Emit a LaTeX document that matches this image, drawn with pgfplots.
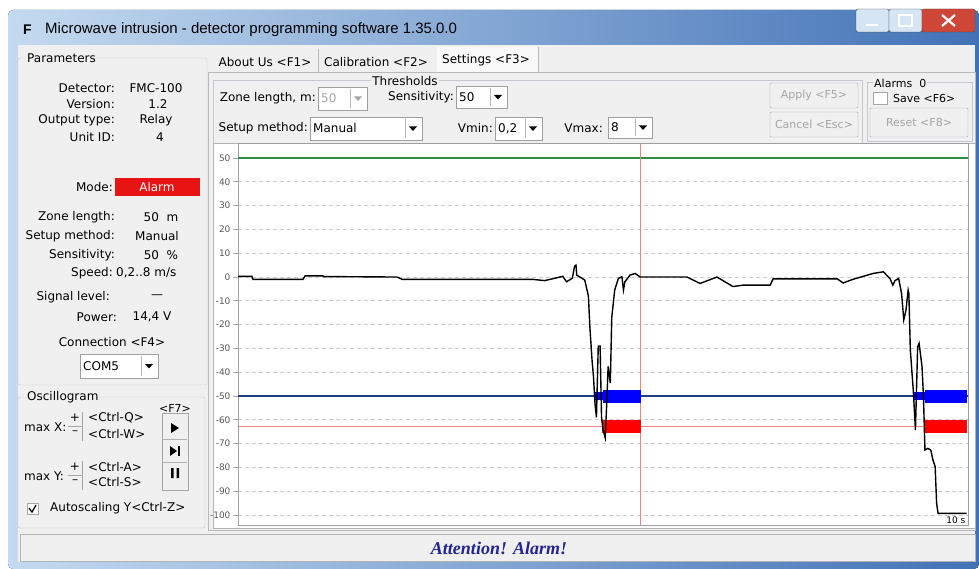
\documentclass[border=0pt]{standalone}
\usepackage{pgfplots}
\pgfplotsset{compat=1.18}
\usepackage{fontspec}
\setmainfont{DejaVu Sans}
\newfontfamily\titlefont{Liberation Sans}
\newfontfamily\alarmfont{Liberation Serif}

\definecolor{framelight}{RGB}{196,218,240}
\definecolor{framedark}{RGB}{66,114,182}
\definecolor{panel}{RGB}{240,240,240}
\definecolor{boxline}{RGB}{196,200,206}
\definecolor{disabled}{RGB}{165,165,165}
\definecolor{thrgreen}{RGB}{50,140,70}
\definecolor{thrblue}{RGB}{30,62,125}
\definecolor{thrred}{RGB}{236,130,130}
\definecolor{alarmred}{RGB}{232,20,20}
\definecolor{alarmtext}{RGB}{35,35,150}

\newcommand\ui{\fontsize{12}{14}\selectfont}
\newcommand\btn{\fontsize{11}{13}\selectfont}
% combobox: x1,y1,x2,y2,text,textcolour
\newcommand\combo[6]{%
  \draw[draw=gray!75,fill=white] (#1,#2) rectangle (#3,#4);
  \node[anchor=west,inner sep=0,text=#6,font=\ui] at ({#1+3},{(#2+#4)/2}) {#5};
  \draw[gray!55] ({#3-17},{#2+2}) -- ({#3-17},{#4-2});
  \fill[#6] ({#3-13},{(#2+#4)/2-2}) -- ({#3-5},{(#2+#4)/2-2}) -- ({#3-9},{(#2+#4)/2+2.5}) -- cycle;
}
% push button: x1,y1,x2,y2,text
\newcommand\button[5]{%
  \draw[draw=gray!70,fill=panel,rounded corners=1pt] (#1,#2) rectangle (#3,#4);
  \node[text=disabled,font=\btn,inner sep=0] at ({(#1+#3)/2},{(#2+#4)/2}) {#5};
}

\begin{document}
\begin{tikzpicture}[x=1pt,y=-1pt]
\useasboundingbox (0,0) rectangle (979,569);
\fill[white] (0,0) rectangle (979,569);

% window frame and title bar
\fill[left color=framelight,right color=framedark,rounded corners=5pt] (8,10) rectangle (979,569);
\fill[panel] (18,45) rectangle (975,562);
\node[anchor=west,font=\titlefont\fontsize{14}{14}\selectfont\bfseries,inner sep=0] at (23,30) {F};
\node[anchor=west,font=\titlefont\fontsize{15}{16}\selectfont,inner sep=0] at (45,30) {Microwave intrusion - detector programming software 1.35.0.0};
\draw[gray!60!black,fill=framelight!70!white,rounded corners=2pt] (856,9) rectangle (889,32);
\draw[white,line width=2pt] (866,25) -- (878,25);
\draw[gray!60!black,fill=framelight!70!white,rounded corners=2pt] (889,9) rectangle (922,32);
\draw[white,line width=1.5pt] (899,15) rectangle (912,26);
\draw[gray!60!black,fill={rgb,255:red,205;green,70;blue,55},rounded corners=2pt] (922,9) rectangle (975,32);
\draw[white,line width=2.2pt] (942,15) -- (955,26) (942,26) -- (955,15);

% Parameters group
\draw[boxline,rounded corners=2pt] (18,58) rectangle (207,385);
\node[fill=panel,inner sep=1pt,anchor=west,font=\ui] at (26,58) {Parameters};
\begin{scope}[every node/.style={font=\ui,inner sep=0}]
\node[anchor=east] at (115,88) {Detector:};     \node at (156,88) {FMC-100};
\node[anchor=east] at (115,104) {Version:};     \node at (158,104) {1.2};
\node[anchor=east] at (115,120) {Output type:}; \node at (156,120) {Relay};
\node[anchor=east] at (115,137) {Unit ID:};     \node at (160,137) {4};
\node[anchor=east] at (113,187) {Mode:};
\fill[alarmred] (115,178) rectangle (200,196);
\node[text=white] at (157,187) {Alarm};
\node[anchor=east] at (115,217) {Zone length:};   \node at (161,217) {50~ m};
\node[anchor=east] at (115,236) {Setup method:};  \node at (157,236) {Manual};
\node[anchor=east] at (115,255) {Sensitivity:};   \node at (161,255) {50~ \%};
\node[anchor=east] at (113,273) {Speed:};         \node[anchor=west] at (116,273) {0,2..8 m/s};
\node[anchor=east] at (110,297) {Signal level:};  \node at (157,297) {---};
\node[anchor=east] at (117,317) {Power:};         \node at (152,317) {14,4 V};
\node at (112,342) {Connection <F4>};
\end{scope}
\combo{80}{354}{158}{378}{COM5}{black}

% Oscillogram group
\draw[boxline,rounded corners=2pt] (18,397) rectangle (205,528);
\node[fill=panel,inner sep=1pt,anchor=west,font=\ui] at (26,397) {Oscillogram};
\begin{scope}[every node/.style={font=\ui,inner sep=0}]
\node[anchor=west] at (24,427) {max X:};
\node[anchor=west] at (24,476) {max Y:};
\node at (75,418) {+};  \node at (75,433) {--};
\node at (75,467) {+};  \node at (75,482) {--};
\node[anchor=west] at (88,418) {<Ctrl-Q>};
\node[anchor=west] at (88,434) {<Ctrl-W>};
\node[anchor=west] at (88,467) {<Ctrl-A>};
\node[anchor=west] at (88,482) {<Ctrl-S>};
\node[font=\btn] at (175,408) {<F7>};
\node[anchor=west] at (50,508) {Autoscaling Y<Ctrl-Z>};
\end{scope}
\draw[gray!70] (68,426) -- (82,426) (82,412) -- (82,441) (68,475) -- (82,475) (82,461) -- (82,490);
\draw[gray!70,fill=panel] (162,413) rectangle (188,490);
\draw[gray!60] (163,439) -- (187,439) (163,462) -- (187,462);
\fill[black] (171,423) -- (179,428) -- (171,433) -- cycle;
\fill[black] (170,446) -- (177,451) -- (170,456) -- cycle;
\fill[black] (178,446) rectangle (180,456);
\fill[black] (171,468) rectangle (173.5,478) (176.5,468) rectangle (179,478);
\draw[gray!70,fill=white] (27,503) rectangle (38,514);
\draw[black,line width=1.3pt] (29,508) -- (32,512) -- (36,505);

% tabs
\draw[gray!55] (208,72) -- (975,72) -- (975,530) -- (208,530) -- cycle;
\fill[white!60!panel] (437,47) rectangle (538,72);
\draw[gray!55] (318,49) -- (318,72) (538,47) -- (538,72);
\begin{scope}[every node/.style={font=\ui,inner sep=0}]
\node at (265,62) {About Us <F1>};
\node at (376,62) {Calibration <F2>};
\node at (486,60) {Settings <F3>};
\end{scope}

% Thresholds group
\draw[boxline] (213,80) rectangle (862,143);
\node[fill=panel,inner sep=1pt,font=\ui] at (405,81) {Thresholds};
\begin{scope}[every node/.style={font=\ui,inner sep=0}]
\node[anchor=east] at (316,98) {Zone length, m:};
\node[anchor=east] at (454,97) {Sensitivity:};
\node[anchor=east] at (308,128) {Setup method:};
\node[anchor=east] at (493,128) {Vmin:};
\node[anchor=east] at (603,128) {Vmax:};
\end{scope}
\combo{318}{87}{367}{110}{50}{disabled}
\combo{456}{86}{507}{108}{50}{black}
\combo{310}{117}{422}{140}{Manual}{black}
\combo{495}{117}{542}{140}{0,2}{black}
\combo{608}{117}{652}{138}{8}{black}
\button{770}{83}{858}{108}{Apply <F5>}
\button{770}{112}{858}{137}{Cancel <Esc>}

% Alarms group
\draw[boxline] (867,82) rectangle (972,141);
\node[fill=panel,inner sep=1pt,anchor=west,font=\btn] at (873,83) {Alarms~ 0};
\draw[gray!70,fill=white] (873,92) rectangle (887,104);
\node[anchor=west,font=\btn,inner sep=0] at (893,98) {Save <F6>};
\button{870}{108}{968}{137}{Reset <F8>}

% oscillogram panel
\draw[gray!60,fill=white] (213,143) rectangle (975,528);

\begin{scope}[x=1cm,y=1cm]
\begin{axis}[
    at={(238pt,-144pt)}, anchor=north west,
    width=730pt, height=381pt, scale only axis,
    xmin=0, xmax=10, ymin=-104.2, ymax=55.9,
    xtick=\empty,
    ytick={-100,-90,...,50},
    ytick pos=left, tick align=outside,
    major tick length=5pt,
    tick style={gray!70, line width=0.8pt},
    axis line style={gray!75, line width=1pt},
    ymajorgrids,
    major grid style={gray!40, dash pattern=on 4pt off 3pt, line width=0.8pt},
    yticklabel style={font=\fontsize{9}{9}\selectfont, text=gray!70!black, xshift=1pt},
    /pgf/number format/assume math mode=true,
    clip=true,
  ]
  % thresholds
  \addplot[thrgreen, line width=1.6pt] coordinates {(0,50) (10,50)};
  \addplot[thrblue, line width=1.6pt] coordinates {(0,-50) (10,-50)};
  \addplot[thrred, line width=1pt] coordinates {(0,-63) (10,-63)};
  % marker of the current time
  \addplot[thrred, line width=1pt] coordinates {(5.52,-104.2) (5.52,55.9)};
  % alarm bars
  \addplot[blue, line width=8pt] coordinates {(4.87,-50) (5.00,-50)};
  \addplot[blue, line width=13pt] coordinates {(5.00,-50) (5.52,-50)};
  \addplot[red, line width=13pt] coordinates {(4.99,-63) (5.52,-63)};
  \addplot[blue, line width=8pt] coordinates {(9.25,-50) (9.41,-50)};
  \addplot[blue, line width=13pt] coordinates {(9.41,-50) (9.99,-50)};
  \addplot[red, line width=13pt] coordinates {(9.41,-63) (9.99,-63)};
  % signal
  \addplot[black, line width=1.4pt, sharp plot] coordinates {
    (0,0.3) (0.19,0.3) (0.205,-1) (0.89,-1) (0.92,0.5) (1.16,0.5) (1.18,0.2)
    (2.18,0) (2.25,-1) (4.04,-1) (4.2,-1.5) (4.37,-0.3) (4.45,0.3) (4.50,-2)
    (4.58,-0.5) (4.61,4.5) (4.63,5) (4.64,0.8) (4.71,-0.5) (4.75,-1.3)
    (4.80,-8) (4.82,-21) (4.85,-35) (4.87,-42) (4.89,-53) (4.91,-59)
    (4.935,-29) (4.96,-29) (4.98,-59) (5.00,-64) (5.03,-67.6) (5.05,-54)
    (5.07,-37.6) (5.10,-44.6) (5.12,-17) (5.16,-5.5) (5.21,-0.6) (5.26,0.1)
    (5.28,-5.5) (5.30,-2) (5.37,0.8) (5.44,1.5) (5.51,0) (6.15,0) (6.33,-2.7)
    (6.56,0) (6.78,-4) (6.92,-3.4) (7.29,-3.4) (7.33,-0.8) (8.21,-0.8)
    (8.29,-2.5) (8.42,-1) (8.70,1.5) (8.84,2.2) (8.93,-0.6) (8.97,-3.4)
    (9.00,-1.5) (9.05,-0.6) (9.09,-6.9) (9.12,-18) (9.15,-14) (9.18,-5.5)
    (9.19,-7) (9.21,-30.7) (9.25,-47.5) (9.28,-64.3) (9.31,-29.3)
    (9.33,-27.9) (9.37,-37.7) (9.39,-50.3) (9.41,-72.7) (9.45,-72)
    (9.49,-72.7) (9.52,-76.9) (9.55,-79.7) (9.57,-95.1) (9.59,-99.3)
    (9.98,-99.3)
  };
  \node[anchor=south east, inner sep=1pt, font=\fontsize{9}{9}\selectfont]
    at (rel axis cs:0.998,0) {10 s};
\end{axis}
\end{scope}

% status bar
\draw[gray!60,fill=panel] (20,534) rectangle (975,561);
\node[font=\alarmfont\fontsize{18}{18}\selectfont\bfseries\itshape,text=alarmtext] at (499,548) {Attention! Alarm!};
\end{tikzpicture}
\end{document}
